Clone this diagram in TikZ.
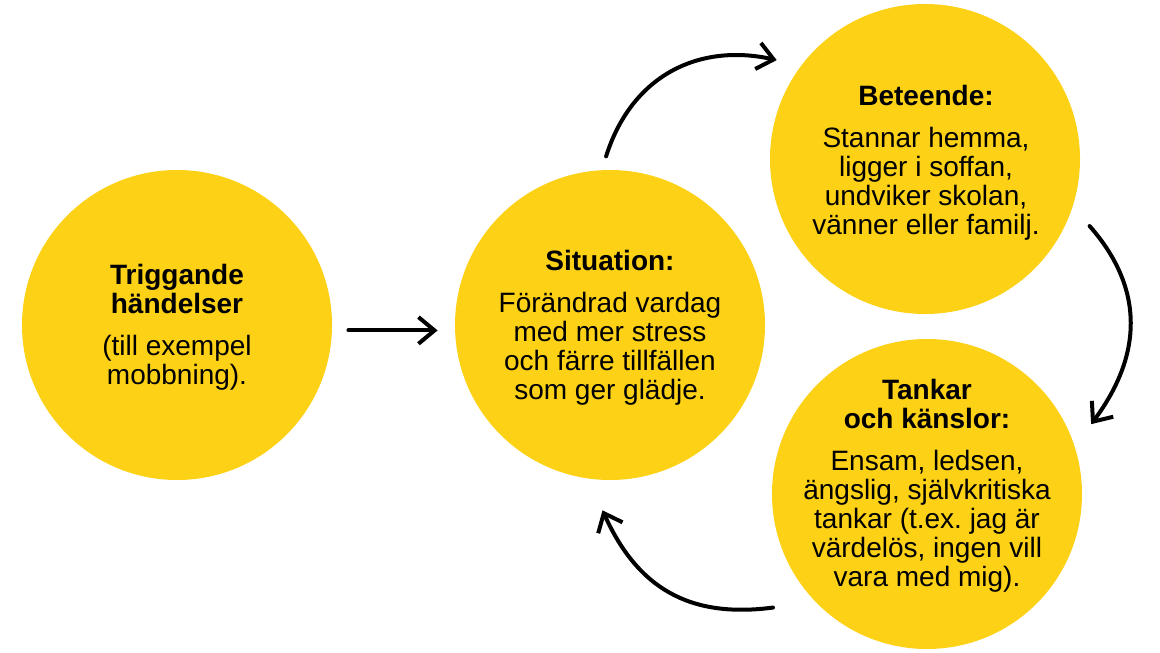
\documentclass[tikz,border=0pt]{standalone}
\usepackage{fontspec}
\setmainfont{Liberation Sans}
\usetikzlibrary{arrows.meta}
\definecolor{bubblefill}{RGB}{252,209,22}
\frenchspacing
\tikzset{every picture/.style={line width=0.75pt}}
\tikzset{
	bubble/.style={circle, draw=none, fill=bubblefill, minimum size=232.5pt, inner sep=0pt},
	bubble text/.style={align=center, inner sep=0pt, font=\fontsize{21pt}{21.75pt}\selectfont},
	loop arrow/.style={line width=3pt, line cap=round, -{Straight Barb[length=12pt,width=20pt]}}}

\begin{document}
\begin{tikzpicture}[x=0.75pt,y=0.75pt,yscale=-1,xscale=1]
	\useasboundingbox (0,0) rectangle (1160,653);

	%Shape: Circle [id:trig]
	\node[bubble] (trig) at (177,325) {};
	%Shape: Circle [id:sit]
	\node[bubble] (sit) at (610,325) {};
	%Shape: Circle [id:beh]
	\node[bubble] (beh) at (925,159) {};
	%Shape: Circle [id:tank]
	\node[bubble] (tank) at (927,494) {};

	% Text Node
	\node[bubble text] (trigtext) at (177,327) {\textbf{Triggande}\\\textbf{händelser}\\[9.75pt](till exempel\\mobbning).};
	% Text Node
	\node[bubble text] (sittext) at (610,328) {\textbf{Situation:}\\[9.75pt]Förändrad vardag\\med mer stress\\och färre tillfällen\\som ger glädje.};
	% Text Node
	\node[bubble text] (behtext) at (926,163) {\textbf{Beteende:}\\[9.75pt]Stannar hemma,\\ligger i soffan,\\undviker skolan,\\vänner eller familj.};
	% Text Node
	\node[bubble text] (tanktext) at (927,486) {\textbf{Tankar}\\\textbf{och känslor:}\\[9.75pt]Ensam, ledsen,\\ängslig, självkritiska\\tankar (t.ex.\ jag är\\värdelös, ingen vill\\vara med mig).};

	%Straight Arrow
	\draw[loop arrow, shorten <=12pt, shorten >=12.75pt] (trig.-2.6) -- (sit.182.6);
	%Curve Arrows
	\draw[loop arrow, shorten <=10.5pt, shorten >=18.5pt] (sit.93.4) .. controls +(29.7,-94) and +(-102.5,-22.6) .. (beh.143);
	\draw[loop arrow, shorten <=19pt, shorten >=20.4pt] (beh.-18.2) .. controls +(72.6,82.5) and +(67,-90) .. (tank.18.9);
	\draw[loop arrow, shorten <=31.9pt, shorten >=25.8pt] (tank.224.4) .. controls +(-126.2,16.6) and +(49,108.7) .. (sit.262.5);

\end{tikzpicture}
\end{document}
